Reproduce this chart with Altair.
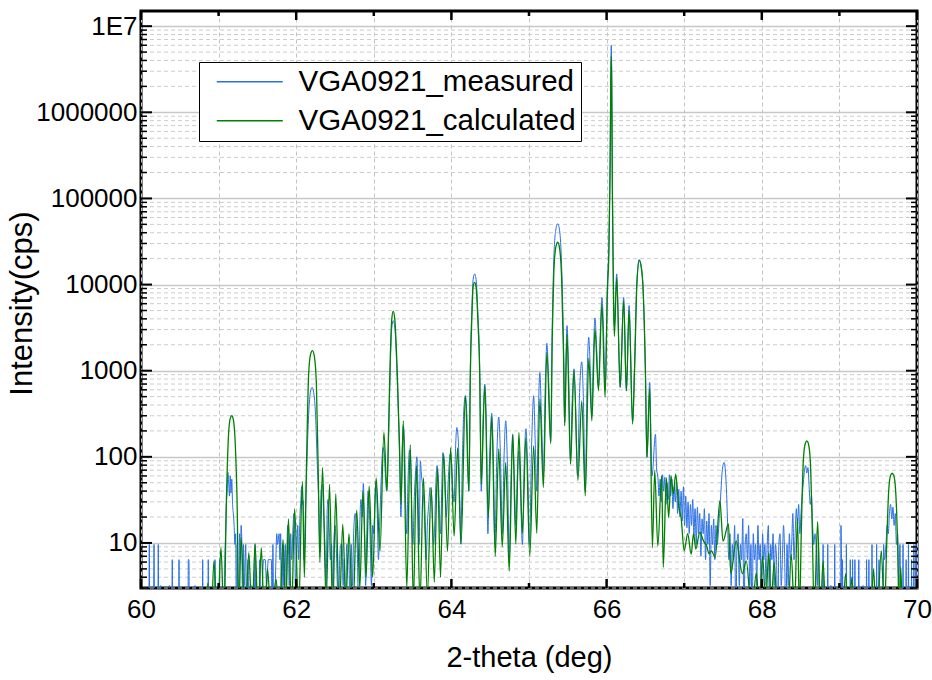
import altair as alt
import pandas as pd

FONT = "Liberation Sans, Arial, sans-serif"
BLUE = "#2a6fe6"
GREEN = "#008000"

X_DOMAIN = [60, 70]
Y_DOMAIN = [3, 1.5e7]
X_TICKS = list(range(60, 71))
Y_MAJOR = [10, 100, 1000, 10000, 100000, 1000000, 10000000]
Y_MINOR = [m * 10 ** e for e in range(0, 7) for m in range(2, 10) if 3 <= m * 10 ** e <= 1.5e7]

SERIES = ["VGA0921_measured", "VGA0921_calculated"]

# calculated curve (x in deg, intensity in cps); values of 1 lie below the axis
CALCULATED = [
    (60.00, 1), (60.84, 1), (60.86, 3.4), (60.90, 1), (60.94, 6.2), (60.985, 1), (61.03, 8.8),
    (61.07, 1.2), (61.10, 30), (61.125, 160), (61.15, 280), (61.17, 300), (61.19, 270),
    (61.215, 140), (61.24, 25), (61.26, 1.5), (61.29, 11.5), (61.34, 1.2), (61.39, 7.7),
    (61.43, 1.2), (61.47, 9.8), (61.51, 1.2), (61.55, 8.8), (61.59, 1.2), (61.63, 5),
    (61.68, 1.2), (61.74, 3.8), (61.785, 1.2), (61.83, 11), (61.865, 1.5), (61.90, 19),
    (61.94, 1.5), (61.98, 25), (62.03, 1.5), (62.08, 52), (62.105, 4), (62.13, 60),
    (62.16, 900), (62.185, 1550), (62.21, 1710), (62.235, 1450), (62.26, 700), (62.285, 60),
    (62.305, 6), (62.34, 75), (62.385, 2), (62.43, 48), (62.47, 1.5), (62.51, 37),
    (62.555, 1.5), (62.60, 16.5), (62.64, 2), (62.68, 12.8), (62.73, 1.5), (62.78, 24),
    (62.82, 3), (62.86, 40), (62.90, 4), (62.94, 46), (62.985, 4), (63.03, 57), (63.08, 8),
    (63.13, 192), (63.17, 40), (63.19, 200), (63.21, 1200), (63.23, 3800), (63.25, 4900),
    (63.27, 4000), (63.30, 1100), (63.33, 150), (63.35, 28), (63.38, 262), (63.425, 3),
    (63.47, 138), (63.51, 2), (63.55, 79), (63.595, 2), (63.64, 57), (63.69, 2.5),
    (63.74, 44), (63.78, 3.5), (63.82, 74), (63.86, 4), (63.90, 108), (63.95, 8),
    (63.99, 128), (64.035, 12), (64.08, 128), (64.125, 9.7), (64.18, 512), (64.225, 40),
    (64.245, 1000), (64.265, 4500), (64.28, 9500), (64.30, 10600), (64.32, 9000),
    (64.34, 4000), (64.365, 900), (64.385, 48), (64.43, 670), (64.475, 20), (64.52, 290),
    (64.565, 7), (64.61, 124), (64.655, 9), (64.70, 86), (64.745, 4.7), (64.79, 183),
    (64.83, 9.7), (64.87, 192), (64.915, 13), (64.96, 168), (65.01, 7), (65.06, 134),
    (65.10, 13), (65.14, 470), (65.185, 44), (65.23, 1630), (65.28, 142), (65.30, 2500),
    (65.32, 14000), (65.345, 27000), (65.37, 31000), (65.395, 26000), (65.42, 12000),
    (65.445, 1500), (65.46, 229), (65.49, 2670), (65.535, 82), (65.58, 1000), (65.63, 53),
    (65.68, 446), (65.725, 35), (65.77, 1400), (65.81, 262), (65.85, 3060), (65.895, 585),
    (65.94, 5960), (65.98, 490), (66.01, 8000), (66.03, 25000), (66.045, 200000),
    (66.055, 2500000), (66.06, 4500000), (66.065, 2500000), (66.075, 100000), (66.09, 6000),
    (66.10, 2500), (66.13, 12000), (66.175, 640), (66.22, 6500), (66.255, 585), (66.29, 5000),
    (66.335, 240), (66.36, 1000), (66.39, 10000), (66.42, 19000), (66.45, 15000),
    (66.47, 9000), (66.50, 1000), (66.52, 98), (66.555, 620), (66.59, 8.8), (66.62, 69),
    (66.66, 9.2), (66.71, 60), (66.73, 5.2), (66.77, 57), (66.80, 19.7), (66.83, 60),
    (66.86, 37), (66.89, 63), (66.93, 26), (66.96, 19.7), (67.00, 8.1), (67.045, 12.8),
    (67.09, 7.4), (67.12, 12.8), (67.15, 8.5), (67.20, 13.3), (67.25, 10.5), (67.29, 9.2),
    (67.32, 7.5), (67.35, 8.1), (67.40, 6.8), (67.46, 31), (67.50, 10.5), (67.57, 16.6),
    (67.60, 4.4), (67.67, 10.5), (67.75, 4.4), (67.80, 6.2), (67.87, 1.5), (67.93, 4.5),
    (67.97, 1.5), (68.01, 7.1), (68.05, 2), (68.09, 7.7), (68.12, 2), (68.16, 5.9),
    (68.21, 1), (68.33, 1), (68.38, 7.3), (68.42, 1.5), (68.46, 19.4), (68.485, 1.5),
    (68.51, 15), (68.535, 90), (68.56, 143), (68.58, 153), (68.60, 143), (68.625, 90),
    (68.65, 15), (68.675, 1.5), (68.72, 17.7), (68.755, 1.5), (68.79, 6.2), (68.83, 1),
    (69.03, 1), (69.08, 4.4), (69.12, 1), (69.16, 4), (69.20, 1), (69.40, 1), (69.44, 5),
    (69.48, 1), (69.54, 8.1), (69.58, 1.5), (69.61, 10), (69.635, 40), (69.66, 61),
    (69.68, 64.5), (69.70, 61), (69.725, 40), (69.75, 10), (69.77, 1.5), (69.79, 5.2),
    (69.82, 1), (70.00, 1),
]

# measured curve (x in deg, intensity in cps); values of 1 stand for zero counts
MEASURED = [
    (60.00, 1), (60.100, 1), (60.107, 9.6), (60.114, 1), (60.161, 1), (60.168, 9.6),
    (60.175, 1), (60.216, 1), (60.223, 9.6), (60.230, 1), (60.250, 1), (60.254, 3.2),
    (60.258, 1), (60.360, 1), (60.365, 3.2), (60.370, 1), (60.397, 1), (60.403, 6.4),
    (60.409, 1), (60.484, 1), (60.490, 6.4), (60.496, 1), (60.604, 1), (60.610, 6.4),
    (60.618, 6.4), (60.624, 1), (60.690, 1), (60.696, 3.2), (60.702, 1), (60.789, 1),
    (60.795, 6.4), (60.801, 1), (60.861, 1), (60.867, 6.4), (60.873, 1), (60.948, 1),
    (60.954, 6.4), (60.960, 1), (61.006, 1), (61.012, 6.4), (61.018, 1), (61.05, 1),
    (61.07, 1), (61.08, 6.4), (61.09, 12.8), (61.10, 28), (61.11, 40), (61.12, 66),
    (61.13, 50), (61.14, 35), (61.15, 60), (61.16, 38), (61.17, 55), (61.18, 28),
    (61.19, 22), (61.20, 16), (61.21, 9.6), (61.22, 12.8), (61.23, 1), (61.24, 9.6),
    (61.25, 1), (61.26, 1), (61.27, 12.8), (61.28, 6.4), (61.29, 16), (61.30, 9.6),
    (61.31, 1), (61.32, 9.6), (61.33, 3.2), (61.35, 9.6), (61.36, 1), (61.38, 6.4),
    (61.39, 1), (61.42, 3.2), (61.43, 1), (61.46, 1), (61.47, 9.6), (61.48, 1), (61.52, 1),
    (61.53, 6.4), (61.54, 1), (61.58, 6.4), (61.60, 6.4), (61.62, 3.2), (61.64, 6.4),
    (61.66, 6.4), (61.68, 6.4), (61.69, 1), (61.70, 9.6), (61.71, 1), (61.73, 3.2),
    (61.75, 12.8), (61.76, 9.6), (61.78, 12.8), (61.79, 6.4), (61.80, 12.8), (61.81, 1),
    (61.83, 9.6), (61.84, 3.2), (61.86, 9.6), (61.87, 3.2), (61.89, 16), (61.90, 9.6),
    (61.91, 3.2), (61.93, 12.8), (61.94, 6.4), (61.96, 16), (61.97, 22), (61.98, 12.8),
    (61.99, 3.2), (62.01, 9.6), (62.02, 16), (62.03, 6.4), (62.05, 22), (62.06, 31),
    (62.07, 45), (62.08, 28), (62.09, 31), (62.10, 6.4), (62.12, 25), (62.14, 100),
    (62.16, 300), (62.185, 580), (62.205, 640), (62.225, 560), (62.25, 300), (62.27, 90),
    (62.29, 30), (62.305, 9.6), (62.32, 40), (62.34, 48), (62.355, 20), (62.37, 9.6),
    (62.385, 3.2), (62.40, 25), (62.41, 32), (62.425, 16), (62.44, 6.4), (62.455, 9.6),
    (62.47, 3.2), (62.49, 12.8), (62.50, 16), (62.515, 9.6), (62.53, 3.2), (62.545, 1),
    (62.56, 6.4), (62.575, 9.6), (62.59, 9.6), (62.605, 3.2), (62.62, 6.4), (62.635, 1),
    (62.65, 9.6), (62.665, 9.4), (62.68, 6.4), (62.695, 1), (62.71, 9.6), (62.725, 3.2),
    (62.74, 12.8), (62.76, 22), (62.775, 16), (62.79, 6.4), (62.805, 1), (62.82, 16),
    (62.835, 32), (62.85, 20), (62.865, 49), (62.88, 16), (62.895, 3.2), (62.91, 12.8),
    (62.925, 40), (62.94, 30), (62.955, 9.6), (62.97, 3.2), (62.985, 16), (63.00, 12.8),
    (63.015, 35), (63.03, 52), (63.045, 22), (63.06, 6.4), (63.075, 16), (63.09, 40),
    (63.105, 90), (63.12, 128), (63.135, 110), (63.15, 60), (63.165, 40), (63.19, 160),
    (63.21, 900), (63.23, 3000), (63.25, 3800), (63.27, 3200), (63.30, 900), (63.33, 120),
    (63.35, 20), (63.365, 100), (63.38, 230), (63.395, 150), (63.41, 30), (63.425, 12.8),
    (63.44, 50), (63.46, 120), (63.475, 90), (63.49, 20), (63.505, 9.6), (63.52, 30),
    (63.54, 70), (63.555, 100), (63.57, 40), (63.585, 9.6), (63.60, 90), (63.615, 60),
    (63.63, 45), (63.645, 30), (63.66, 12.8), (63.675, 6.4), (63.69, 16), (63.71, 30),
    (63.725, 44), (63.74, 40), (63.755, 20), (63.77, 9.6), (63.785, 16), (63.80, 50),
    (63.815, 79), (63.83, 60), (63.845, 25), (63.86, 12.8), (63.875, 40), (63.89, 112),
    (63.905, 90), (63.92, 40), (63.935, 20), (63.95, 35), (63.97, 80), (63.985, 108),
    (64.00, 90), (64.02, 40), (64.035, 30), (64.05, 100), (64.07, 219), (64.09, 150),
    (64.105, 40), (64.12, 9.7), (64.14, 80), (64.16, 350), (64.18, 512), (64.20, 300),
    (64.215, 60), (64.225, 40), (64.245, 1200), (64.265, 5500), (64.28, 11500),
    (64.30, 13300), (64.32, 11000), (64.34, 5000), (64.365, 1000), (64.385, 40),
    (64.41, 300), (64.43, 700), (64.45, 250), (64.47, 12.8), (64.49, 80), (64.52, 320),
    (64.54, 100), (64.56, 9.6), (64.585, 100), (64.61, 290), (64.635, 80), (64.655, 12.8),
    (64.68, 110), (64.70, 262), (64.725, 60), (64.745, 6.4), (64.77, 60), (64.79, 180),
    (64.81, 60), (64.83, 16), (64.85, 60), (64.87, 117), (64.89, 40), (64.915, 9.6),
    (64.94, 90), (64.96, 212), (64.985, 60), (65.005, 9.6), (65.035, 150), (65.06, 512),
    (65.08, 150), (65.10, 40), (65.12, 300), (65.14, 950), (65.16, 300), (65.185, 60),
    (65.21, 700), (65.23, 2080), (65.255, 700), (65.28, 150), (65.30, 3500), (65.32, 20000),
    (65.345, 43000), (65.37, 50800), (65.395, 42000), (65.42, 17000), (65.445, 2000),
    (65.46, 250), (65.475, 1200), (65.49, 3340), (65.51, 1000), (65.535, 90), (65.555, 400),
    (65.58, 1050), (65.60, 400), (65.625, 60), (65.65, 500), (65.68, 1270), (65.70, 500),
    (65.725, 40), (65.75, 900), (65.77, 2440), (65.79, 1000), (65.81, 300), (65.83, 1500),
    (65.85, 4100), (65.87, 2000), (65.895, 650), (65.92, 3000), (65.94, 7100), (65.96, 3000),
    (65.98, 600), (66.01, 10000), (66.03, 32000), (66.045, 300000), (66.055, 3500000),
    (66.06, 6000000), (66.065, 3500000), (66.075, 150000), (66.09, 7000), (66.10, 3300),
    (66.13, 13300), (66.175, 640), (66.22, 7100), (66.255, 585), (66.29, 5700), (66.335, 260),
    (66.36, 1100), (66.39, 10500), (66.42, 19500), (66.45, 15500), (66.47, 9000),
    (66.50, 1000), (66.52, 100), (66.555, 730), (66.585, 60), (66.63, 183), (66.645, 70),
    (66.66, 60), (66.675, 35), (66.69, 55), (66.705, 30), (66.72, 62), (66.735, 40),
    (66.75, 58), (66.765, 28), (66.78, 50), (66.795, 32), (66.81, 62), (66.825, 35),
    (66.84, 55), (66.855, 25), (66.87, 45), (66.885, 30), (66.90, 50), (66.915, 22),
    (66.93, 42), (66.945, 20), (66.96, 40), (66.975, 18), (66.99, 45), (67.005, 16),
    (67.02, 35), (67.035, 15), (67.05, 30), (67.065, 12.8), (67.08, 28), (67.095, 16),
    (67.11, 32), (67.125, 12), (67.14, 25), (67.155, 9.6), (67.17, 26), (67.185, 12.8),
    (67.20, 22), (67.215, 7), (67.23, 19), (67.245, 12.8), (67.26, 25), (67.275, 6.4),
    (67.29, 18), (67.305, 9.6), (67.32, 22), (67.335, 3.2), (67.35, 16), (67.365, 9.6),
    (67.38, 19), (67.395, 6.4), (67.41, 16), (67.425, 9.6), (67.44, 13), (67.455, 22),
    (67.47, 35), (67.485, 60), (67.50, 80), (67.515, 86), (67.53, 70), (67.545, 40),
    (67.56, 16), (67.575, 6.4), (67.59, 12.8), (67.605, 3.2), (67.62, 9.6), (67.635, 6.4),
    (67.65, 16), (67.665, 1), (67.68, 9.6), (67.695, 12.8), (67.71, 3.2), (67.725, 9.6),
    (67.74, 6.4), (67.755, 19.2), (67.77, 1), (67.785, 9.6), (67.80, 12.8), (67.815, 6.4),
    (67.83, 16), (67.845, 3.2), (67.86, 9.6), (67.875, 1), (67.89, 12.8), (67.905, 6.4),
    (67.92, 9.6), (67.935, 3.2), (67.95, 16), (67.965, 6.4), (67.98, 9.6), (67.995, 1),
    (68.01, 12.8), (68.025, 6.4), (68.04, 9.6), (68.055, 3.2), (68.07, 9.6), (68.085, 16),
    (68.10, 1), (68.115, 9.6), (68.13, 6.4), (68.145, 12.8), (68.16, 3.2), (68.175, 9.6),
    (68.19, 6.4), (68.205, 1), (68.22, 9.6), (68.235, 12.8), (68.25, 3.2), (68.265, 6.4),
    (68.28, 16), (68.295, 6.4), (68.31, 1), (68.325, 9.6), (68.34, 3.2), (68.355, 12.8),
    (68.37, 6.4), (68.385, 9.6), (68.40, 22), (68.415, 6.4), (68.43, 12.8), (68.445, 25),
    (68.46, 16), (68.475, 28), (68.49, 12.8), (68.505, 22), (68.52, 35), (68.535, 50),
    (68.55, 70), (68.565, 79), (68.58, 65), (68.595, 75), (68.61, 45), (68.625, 28),
    (68.64, 35), (68.655, 16), (68.67, 9.6), (68.685, 12.8), (68.70, 9.6), (68.715, 3.2),
    (68.73, 9.6), (68.745, 1), (68.785, 1), (68.79, 9.6), (68.795, 1), (68.845, 1),
    (68.85, 9.6), (68.855, 1), (68.885, 1), (68.89, 3.2), (68.895, 1), (68.935, 1),
    (68.94, 9.6), (68.945, 1), (69.015, 1), (69.02, 16), (69.025, 9.6), (69.035, 1),
    (69.04, 6.4), (69.045, 1), (69.085, 1), (69.09, 9.6), (69.095, 1), (69.135, 1),
    (69.14, 6.4), (69.145, 1), (69.165, 1), (69.17, 6.4), (69.175, 1), (69.195, 1),
    (69.20, 6.4), (69.205, 1), (69.245, 1), (69.25, 6.4), (69.255, 1), (69.30, 1),
    (69.305, 3.2), (69.31, 1), (69.345, 1), (69.35, 6.4), (69.355, 1), (69.375, 1),
    (69.38, 6.4), (69.385, 1), (69.415, 1), (69.42, 9.6), (69.425, 1), (69.475, 1),
    (69.48, 9.6), (69.485, 1), (69.505, 1), (69.51, 6.4), (69.515, 1), (69.565, 1),
    (69.57, 9.6), (69.58, 6.4), (69.60, 9.6), (69.615, 16), (69.63, 12.8), (69.645, 22),
    (69.66, 28), (69.675, 19), (69.69, 26), (69.705, 16), (69.72, 22), (69.735, 9.6),
    (69.75, 12.8), (69.765, 3.2), (69.78, 9.6), (69.795, 1), (69.815, 1), (69.82, 9.6),
    (69.825, 1), (69.855, 1), (69.86, 6.4), (69.865, 1), (69.885, 1), (69.89, 9.6),
    (69.895, 1), (69.925, 1), (69.93, 6.4), (69.935, 1), (69.955, 1), (69.96, 9.6),
    (69.965, 1), (69.985, 1), (69.99, 9.6), (70.00, 1),
]

meas_df = pd.DataFrame(MEASURED, columns=["x", "y"]).assign(series=SERIES[0])
calc_df = pd.DataFrame(CALCULATED, columns=["x", "y"]).assign(series=SERIES[1])

W, H = 776, 577

xs = alt.Scale(domain=X_DOMAIN, nice=False, zero=False)
ys = alt.Scale(type="log", domain=Y_DOMAIN, nice=False)

x_axis = alt.Axis(
    values=X_TICKS, format="d",
    labelExpr="datum.value % 2 == 0 ? datum.label : ''",
    labelFlush=False, labelOverlap=False,
    grid=True, gridDash=[4, 3], gridColor="#c4c4c4", gridWidth=1,
    ticks=False, tickSize=0, domain=False,
    labelFont=FONT, labelFontSize=26, labelColor="black", labelPadding=8,
    title="2-theta (deg)", titleFont=FONT, titleFontSize=29, titleFontWeight="normal",
    titleColor="black", titleBaseline="middle", titleY=69,
)
y_axis = alt.Axis(
    values=Y_MAJOR,
    labelExpr="datum.value >= 1e7 ? '1E7' : format(datum.value, 'd')",
    labelFlush=False, labelOverlap=False,
    grid=True, gridColor="#c8c8c8", gridWidth=1.5,
    ticks=False, tickSize=0, domain=False,
    labelFont=FONT, labelFontSize=26, labelColor="black", labelPadding=4,
    title="Intensity(cps)", titleFont=FONT, titleFontSize=31, titleFontWeight="normal",
    titleColor="black", titleBaseline="middle", titleX=-119, titleY=292,
)

X = lambda f: alt.X(f, type="quantitative", scale=xs, axis=x_axis)
Y = lambda f: alt.Y(f, type="quantitative", scale=ys, axis=y_axis)

color = alt.Color(
    "series:N",
    scale=alt.Scale(domain=SERIES, range=[BLUE, GREEN]),
    legend=alt.Legend(
        title=None, orient="none", legendX=58, legendY=51,
        symbolType="M-0.2,0H6.4", symbolSize=400, symbolStrokeWidth=1.3,
        labelFont=FONT, labelFontSize=29.5, labelColor="black", labelOffset=65,
        labelLimit=500, padding=5, rowPadding=8,
        strokeColor="black", fillColor="white",
    ),
)

minor_df = pd.DataFrame({"v": Y_MINOR})
major_df = pd.DataFrame({"v": Y_MAJOR})
xmaj_df = pd.DataFrame({"v": [t for t in X_TICKS if t % 2 == 0]})
xmin_df = pd.DataFrame({"v": [t for t in X_TICKS if t % 2 == 1]})

minor_grid = alt.Chart(minor_df).mark_rule(color="#cccccc", strokeDash=[4, 3], strokeWidth=1).encode(y=Y("v"))

blue_line = alt.Chart(meas_df).mark_line(clip=True, interpolate="monotone", strokeWidth=1).encode(
    x=X("x"), y=Y("y"), color=color
)
green_line = alt.Chart(calc_df).mark_line(clip=True, interpolate="monotone", strokeWidth=1.3).encode(
    x=X("x"), y=Y("y"), color=color
)


def yticks(df, length, width):
    left = alt.Chart(df).mark_rule(color="black", strokeWidth=width).encode(
        y=Y("v"), x=alt.value(0), x2=alt.value(length))
    right = alt.Chart(df).mark_rule(color="black", strokeWidth=width).encode(
        y=Y("v"), x=alt.value(W), x2=alt.value(W - length))
    return [left, right]


def xticks(df, length, width):
    bottom = alt.Chart(df).mark_rule(color="black", strokeWidth=width).encode(
        x=X("v"), y=alt.value(H), y2=alt.value(H - length))
    top = alt.Chart(df).mark_rule(color="black", strokeWidth=width).encode(
        x=X("v"), y=alt.value(0), y2=alt.value(length))
    return [bottom, top]


layers = [minor_grid, blue_line, green_line]
layers += yticks(major_df, 11, 2) + yticks(minor_df, 6, 1.5)
layers += xticks(xmaj_df, 9, 2.5) + xticks(xmin_df, 5, 2.5)

chart = alt.layer(*layers).properties(
    width=W, height=H,
    padding={"left": 141, "top": 11, "right": 15, "bottom": 92},
    autosize=alt.AutoSizeParams(type="none"),
    background="white",
).configure_view(stroke="black", strokeWidth=3)

chart.save("out.html", embed_options={"renderer": "svg", "actions": False})
